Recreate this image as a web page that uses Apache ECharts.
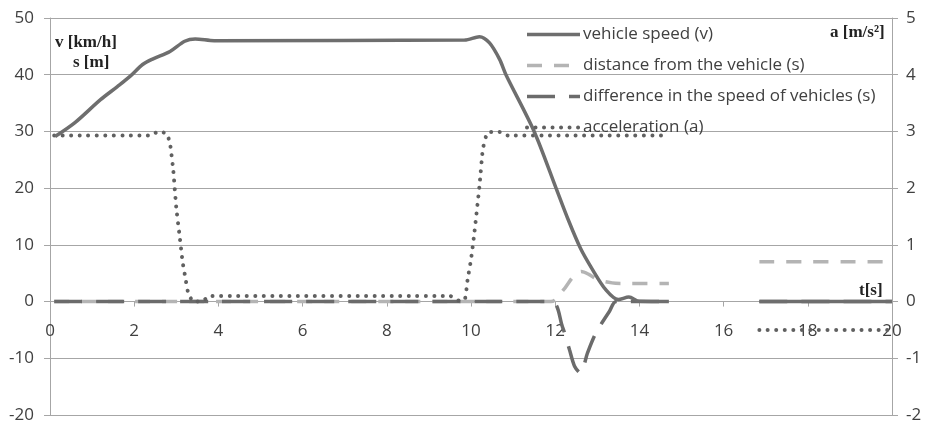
<!DOCTYPE html>
<html>
<head>
<meta charset="utf-8">
<script src="https://cdn.jsdelivr.net/npm/echarts@6/dist/echarts.min.js"></script>
<style>
html,body{margin:0;padding:0;background:#fff;}
#c{width:928px;height:423px;}
</style>
</head>
<body>
<div id="c"></div>
<script>
// ---- data ----
const seriesNames = ['vehicle speed (v)', 'distance from the vehicle (s)', 'difference in the speed of vehicles (s)', 'acceleration (a)'];

const speedT = [0.12, 0.6, 1.2, 1.6, 1.9, 2.2, 2.45, 2.85, 3.2, 3.45, 3.9, 9.85, 10.2, 10.44, 10.68, 10.83, 11.5, 12.02, 12.3, 12.6, 12.89, 13.2, 13.5, 13.75, 14.0, 14.7, 15.8, 16.85, 20];
const speedV = [29.1, 31.6, 35.6, 37.9, 39.7, 41.8, 42.8, 44.1, 45.9, 46.3, 46.0, 46.1, 46.7, 45.6, 42.7, 40, 30, 20, 14.6, 9.4, 5.6, 2.1, 0.35, 0.8, 0.05, 0, null, 0, 0];

const distT = [0.1, 11.9, 12.2, 12.45, 12.62, 12.8, 13.0, 13.35, 13.6, 14.7, 15.8, 16.85, 20];
const distV = [0, 0, 2.1, 4.6, 5.3, 4.8, 3.9, 3.3, 3.2, 3.2, null, 7, 7];

const diffT = [0.1, 11.9, 12.17, 12.34, 12.46, 12.6, 12.77, 12.97, 13.29, 13.45, 14.7, 15.8, 16.85, 20];
const diffV = [0, 0, -4.4, -8.5, -11.4, -12.6, -9, -5.5, -1.7, 0, 0, null, 0, 0];

const accT = [0.1, 2.4, 2.57, 2.77, 2.85, 2.93, 3.0, 3.08, 3.15, 3.22, 3.28, 3.4, 3.6, 3.8, 9.5, 9.7, 9.85, 9.92, 10.0, 10.08, 10.2, 10.28, 10.36, 10.44, 10.68, 10.87, 14.7, 15.8, 16.85, 20];
const accV = [2.93, 2.93, 3.0, 2.96, 2.79, 2.3, 1.65, 1.15, 0.7, 0.4, 0.16, 0.0, 0.0, 0.1, 0.1, 0.02, 0.03, 0.39, 0.74, 1.21, 2.03, 2.68, 2.92, 2.99, 2.99, 2.93, 2.93, null, -0.5, -0.5];

const xTicks = [0, 2, 4, 6, 8, 10, 12, 14, 16, 18, 20];
const leftTicks = [-20, -10, 0, 10, 20, 30, 40, 50];
const rightTicks = [-2, -1, 0, 1, 2, 3, 4, 5];

function pairs(ts, vs) { return ts.map((t, i) => [t, vs[i]]); }

const labelColor = '#404040';
const gridColor = '#a6a6a6';
const FONT = '"Open Sans", Lato, sans-serif';
const SERIF = 'bold 17px "Liberation Serif", serif';

const styles = {
  speed: {color: '#6e6e6e', width: 3.5, type: 'solid'},
  dist: {color: '#b4b4b4', width: 3.5, type: [15, 12]},
  diff: {color: '#6b6b6b', width: 3.5, type: [28, 14]},
  acc: {color: '#606060', width: 4, type: [0.01, 8.5], cap: 'round'}
};

const W = 928, H = 423;
const gridTop = 18, gridBottom = 8;
const plotH = H - gridTop - gridBottom;
const lMin = leftTicks[0], lMax = leftTicks[leftTicks.length - 1];
// move the x axis up to the zero line of the left axis
const xOffset = -plotH * (0 - lMin) / (lMax - lMin);

const chart = echarts.init(document.getElementById('c'), null, {renderer: 'canvas'});
chart.setOption({
  animation: false,
  backgroundColor: '#fff',
  grid: {left: 50, right: 36, top: gridTop, bottom: gridBottom, containLabel: false, outerBoundsMode: 'none'},
  xAxis: {
    type: 'value', min: xTicks[0], max: xTicks[xTicks.length - 1], interval: 2,
    position: 'bottom', offset: xOffset,
    axisLine: {onZero: false, lineStyle: {color: gridColor, width: 1}},
    axisTick: {show: true, inside: false, length: 5, lineStyle: {color: gridColor}},
    axisLabel: {color: labelColor, fontSize: 17, fontFamily: FONT, margin: 21},
    splitLine: {show: false}
  },
  yAxis: [{
    type: 'value', min: lMin, max: lMax, interval: 10,
    axisLine: {show: true, lineStyle: {color: gridColor}},
    axisTick: {show: true, length: 6, lineStyle: {color: gridColor}},
    axisLabel: {color: labelColor, fontSize: 17, fontFamily: FONT, margin: 16},
    splitLine: {show: true, lineStyle: {color: gridColor, width: 1}}
  }, {
    type: 'value', min: rightTicks[0], max: rightTicks[rightTicks.length - 1], interval: 1,
    position: 'right',
    axisLine: {show: true, lineStyle: {color: gridColor}},
    axisTick: {show: true, length: 6, lineStyle: {color: gridColor}},
    axisLabel: {color: labelColor, fontSize: 17, fontFamily: FONT, margin: 14},
    splitLine: {show: false}
  }],
  legend: {
    data: [
      {name: seriesNames[0], lineStyle: styles.speed},
      {name: seriesNames[1], lineStyle: styles.dist},
      {name: seriesNames[2], lineStyle: styles.diff},
      {name: seriesNames[3], lineStyle: styles.acc}
    ],
    orient: 'vertical', left: 525, top: 26, padding: 0,
    itemWidth: 53, itemHeight: 14, itemGap: 14,
    itemStyle: {opacity: 0, color: 'rgba(0,0,0,0)', borderWidth: 0},
    textStyle: {color: labelColor, fontSize: 17, lineHeight: 14, fontFamily: FONT, padding: [0, 0, 0, -2]},
    backgroundColor: 'rgba(255,255,255,0)'
  },
  series: [{
    name: seriesNames[1], type: 'line', yAxisIndex: 0, symbol: 'none', smooth: 0.3,
    data: pairs(distT, distV), connectNulls: false,
    lineStyle: styles.dist, itemStyle: {color: styles.dist.color}
  }, {
    name: seriesNames[2], type: 'line', yAxisIndex: 0, symbol: 'none', smooth: 0.3,
    data: pairs(diffT, diffV), connectNulls: false,
    lineStyle: styles.diff, itemStyle: {color: styles.diff.color}
  }, {
    name: seriesNames[3], type: 'line', yAxisIndex: 1, symbol: 'none', smooth: 0.15,
    data: pairs(accT, accV), connectNulls: false,
    lineStyle: styles.acc, itemStyle: {color: styles.acc.color}
  }, {
    name: seriesNames[0], type: 'line', yAxisIndex: 0, symbol: 'none', smooth: 0.3,
    data: pairs(speedT, speedV), connectNulls: false,
    lineStyle: styles.speed, itemStyle: {color: styles.speed.color}
  }],
  graphic: [
    {type: 'text', left: 55, top: 34, style: {text: 'v [km/h]', font: SERIF, fill: '#222'}},
    {type: 'text', left: 73, top: 54, style: {text: 's [m]', font: SERIF, fill: '#222'}},
    {type: 'text', left: 830, top: 24, style: {text: 'a [m/s²]', font: SERIF, fill: '#222'}},
    {type: 'text', left: 859, top: 282, style: {text: 't[s]', font: SERIF, fill: '#222'}}
  ]
});
</script>
</body>
</html>
